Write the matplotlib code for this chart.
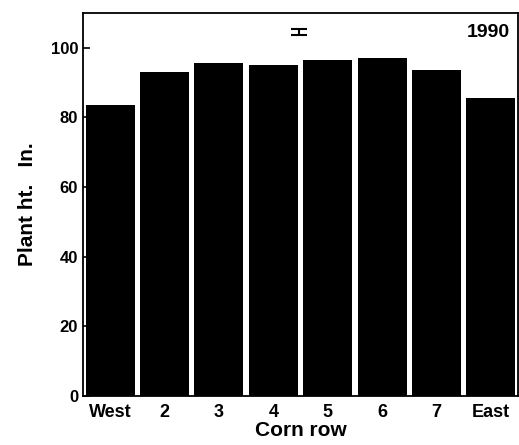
import numpy as np
import matplotlib.pyplot as plt

rows = ['West', '2', '3', '4', '5', '6', '7', 'East']
heights = [83.5, 93, 95.5, 95, 96.5, 97, 93.5, 85.5]
err_x = 3.48
err_y = 104.5
err_half = 0.8
year = '1990'

plt.rcParams['font.family'] = ['Liberation Sans', 'DejaVu Sans']
plt.rcParams['font.weight'] = 'bold'

fig = plt.figure(figsize=(5.19, 4.45), dpi=100)
ax = fig.add_axes([0.16, 0.110, 0.838, 0.861])

x = np.arange(len(rows))
ax.bar(x, heights, width=0.9, color='black')
ax.errorbar([err_x], [err_y], yerr=[err_half], color='black', capsize=6,
            elinewidth=1.5, capthick=1.5)
ax.text(0.982, 0.95, year, transform=ax.transAxes, ha='right', va='center',
        fontsize=14, fontweight='bold')

ax.set_xlim(-0.5, 7.5)
ax.set_ylim(0, 110)
ax.set_yticks(np.arange(0, 101, 20))
ax.set_xticks(x)
ax.set_xticklabels(rows)
ax.tick_params(axis='y', direction='in', length=5, labelsize=12, width=1.2)
ax.tick_params(axis='x', length=0, labelsize=13, pad=6)
for s in ax.spines.values():
    s.set_linewidth(1.3)

ax.set_xlabel('Corn row', fontsize=15, fontweight='bold', labelpad=0)
ax.set_ylabel('Plant ht.   In.', fontsize=15, fontweight='bold', labelpad=10)

plt.savefig('out.png', dpi=100)
